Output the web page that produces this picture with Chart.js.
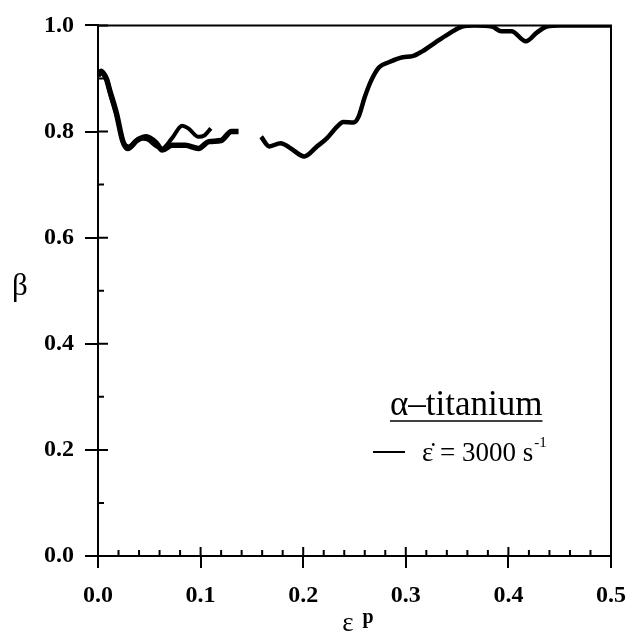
<!DOCTYPE html>
<html>
<head>
<meta charset="utf-8">
<script src="https://cdn.jsdelivr.net/npm/chart.js@4"></script>
<style>
  html, body { margin: 0; padding: 0; background: #fff; }
  #wrap { width: 639px; height: 636px; position: relative; }
</style>
</head>
<body>
<div id="wrap"><canvas id="grafico"></canvas></div>
<script>
// datos (deformacion plastica vs beta)
const epsA  = [0, 0.003, 0.008, 0.0115, 0.018, 0.024, 0.029, 0.038, 0.047, 0.057, 0.0625, 0.072, 0.085, 0.098, 0.108, 0.12, 0.13, 0.137];
const betaA = [0.905, 0.912, 0.9, 0.877, 0.834, 0.783, 0.768, 0.783, 0.79, 0.778, 0.765, 0.774, 0.774, 0.768, 0.781, 0.783, 0.8, 0.8];

const epsB  = [0, 0.003, 0.008, 0.012, 0.019, 0.025, 0.03, 0.04, 0.048, 0.057, 0.0625, 0.072, 0.082, 0.088, 0.098, 0.104, 0.11];
const betaB = [0.91, 0.915, 0.9, 0.87, 0.825, 0.778, 0.772, 0.787, 0.785, 0.772, 0.768, 0.787, 0.811, 0.806, 0.79, 0.793, 0.806];

const epsC  = [0.159, 0.167, 0.178, 0.188, 0.201, 0.2135, 0.223, 0.233, 0.239, 0.249, 0.254, 0.26, 0.266, 0.274, 0.284, 0.297, 0.3065, 0.316, 0.329, 0.341, 0.355, 0.367, 0.384, 0.393, 0.403, 0.417, 0.428, 0.4375, 0.451, 0.47, 0.5];
const betaC = [0.79, 0.772, 0.778, 0.768, 0.753, 0.772, 0.787, 0.809, 0.818, 0.817, 0.828, 0.865, 0.895, 0.921, 0.931, 0.94, 0.942, 0.951, 0.968, 0.983, 0.998, 1.0, 0.998, 0.989, 0.989, 0.97, 0.987, 0.998, 1.0, 1.0, 1.0];

const xTicks = [0, 0.1, 0.2, 0.3, 0.4, 0.5];
const yTicks = [0, 0.2, 0.4, 0.6, 0.8, 1.0];

const serif = "'Liberation Serif', 'Times New Roman', serif";

function puntos(xs, ys) {
    return xs.map((x, i) => ({ x: x, y: ys[i] }));
}

// ejes extra: caja, ticks internos, titulos y leyenda
const extrasPlugin = {
    id: 'extras',
    afterDraw(chart) {
        const ctx = chart.ctx;
        const a = chart.chartArea;
        const sx = chart.scales.x, sy = chart.scales.y;
        ctx.save();
        ctx.strokeStyle = '#000';
        ctx.lineWidth = 2;
        // caja superior y derecha
        ctx.beginPath();
        ctx.moveTo(a.left, a.top); ctx.lineTo(a.right, a.top); ctx.lineTo(a.right, a.bottom);
        ctx.stroke();
        // ticks: mayores cruzan el eje, menores hacia dentro
        ctx.beginPath();
        for (let v = 0; v <= 50; v += 2) {
            const px = sx.getPixelForValue(v / 100);
            const largo = (v % 10 === 0) ? 9 : 6;
            ctx.moveTo(px, a.bottom); ctx.lineTo(px, a.bottom - largo);
        }
        for (let v = 0; v <= 10; v += 1) {
            const py = sy.getPixelForValue(v / 10);
            const largo = (v % 2 === 0) ? 10 : 6;
            ctx.moveTo(a.left, py); ctx.lineTo(a.left + largo, py);
        }
        ctx.stroke();

        // titulos de ejes
        ctx.fillStyle = '#000';
        ctx.textAlign = 'center';
        ctx.textBaseline = 'middle';
        ctx.font = '31px ' + serif;
        ctx.fillText('β', 20, (a.top + a.bottom) / 2 - 4);
        ctx.font = '27px ' + serif;
        ctx.fillText('ε', 348, 624);
        ctx.font = 'bold 20px ' + serif;
        ctx.fillText('p', 368, 618);

        // leyenda
        ctx.textAlign = 'left';
        ctx.textBaseline = 'alphabetic';
        ctx.font = '35px ' + serif;
        const titulo = 'α–titanium';
        ctx.fillText(titulo, 390, 415);
        const w = ctx.measureText(titulo).width;
        ctx.lineWidth = 1.5;
        ctx.beginPath(); ctx.moveTo(390, 421); ctx.lineTo(390 + w, 421); ctx.stroke();
        ctx.lineWidth = 2;
        ctx.beginPath(); ctx.moveTo(373, 452); ctx.lineTo(405, 452); ctx.stroke();
        ctx.font = '27px ' + serif;
        const txt = 'ε\u0307 = 3000 s';
        ctx.fillText(txt, 422, 461);
        const w2 = ctx.measureText(txt).width;
        ctx.font = '15px ' + serif;
        ctx.fillText('-1', 422 + w2 + 1, 447);
        ctx.restore();
    }
};

const ctx = document.getElementById('grafico').getContext('2d');
new Chart(ctx, {
    type: 'line',
    data: {
        datasets: [
            { label: 'ε̇ = 3000 s-1', data: puntos(epsA, betaA), borderColor: '#000', borderWidth: 5.5, pointRadius: 0, cubicInterpolationMode: 'monotone', fill: false },
            { label: 'b', data: puntos(epsB, betaB), borderColor: '#000', borderWidth: 4, pointRadius: 0, cubicInterpolationMode: 'monotone', fill: false },
            { label: 'c', data: puntos(epsC, betaC), borderColor: '#000', borderWidth: 4.5, pointRadius: 0, cubicInterpolationMode: 'monotone', fill: false }
        ]
    },
    options: {
        responsive: true,
        maintainAspectRatio: false,
        animation: false,
        layout: { padding: { left: 0, top: 21, right: 21, bottom: 0 } },
        plugins: { legend: { display: false }, tooltip: { enabled: false } },
        scales: {
            x: {
                type: 'linear', min: 0, max: 0.5,
                afterBuildTicks: s => { s.ticks = xTicks.map(v => ({ value: v })); },
                afterFit: s => { s.height = 80; },
                grid: { drawOnChartArea: false, color: '#000', lineWidth: 2, tickLength: 12 },
                border: { color: '#000', width: 2 },
                ticks: { color: '#000', padding: 13, font: { family: serif, size: 24, weight: 'bold' },
                         callback: v => v.toFixed(1) }
            },
            y: {
                min: 0, max: 1,
                afterBuildTicks: s => { s.ticks = yTicks.map(v => ({ value: v })); },
                afterFit: s => { s.width = 98; },
                grid: { drawOnChartArea: false, color: '#000', lineWidth: 2, tickLength: 13 },
                border: { color: '#000', width: 2 },
                ticks: { color: '#000', padding: 11, font: { family: serif, size: 24, weight: 'bold' },
                         callback: v => v.toFixed(1) }
            }
        }
    },
    plugins: [extrasPlugin]
});
</script>
</body>
</html>
